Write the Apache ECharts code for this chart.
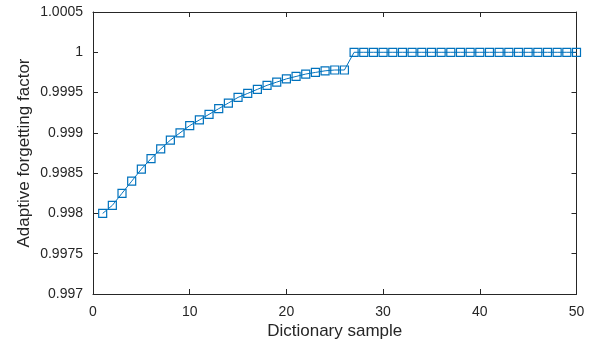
<!DOCTYPE html>
<html><head><meta charset="utf-8">
<script src="https://cdn.jsdelivr.net/npm/echarts@6/dist/echarts.min.js"></script>
<style>html,body{margin:0;padding:0;background:#fff}#c{width:595px;height:345px}</style>
</head><body><div id="c"></div>
<script>
const samples = [1,2,3,4,5,6,7,8,9,10,11,12,13,14,15,16,17,18,19,20,21,22,23,24,25,26,27,28,29,30,31,32,33,34,35,36,37,38,39,40,41,42,43,44,45,46,47,48,49,50];
const forgetting = [0.99800,0.99810,0.99825,0.99840,0.99855,0.99868,0.99880,0.99891,0.99900,0.99909,0.99916,0.99923,0.99930,0.99937,0.99944,0.99949,0.99954,0.99959,0.99963,0.99967,0.99970,0.99973,0.99975,0.99977,0.99978,0.99978,
1,1,1,1,1,1,1,1,1,1,1,1,1,1,1,1,1,1,1,1,1,1,1,1];
const xTicks = [0,10,20,30,40,50];
const yTicks = [0.997,0.9975,0.998,0.9985,0.999,0.9995,1,1.0005];

const txt = '#262626';
const font = 'Liberation Sans, Arial, sans-serif';
const chart = echarts.init(document.getElementById('c'), null, {renderer:'canvas'});
const axisLine = {show:true, onZero:false, lineStyle:{color:txt, width:1}};
const tick = {show:true, inside:true, length:5, lineStyle:{color:txt, width:1}};
chart.setOption({
  animation:false,
  grid:{left:93, right:18.5, top:12, bottom:50, containLabel:false},
  xAxis:[{
    type:'value', min:xTicks[0], max:xTicks[xTicks.length-1], interval:10,
    name:'Dictionary sample', nameLocation:'middle', nameGap:29, nameMoveOverlap:false,
    nameTextStyle:{color:txt, fontSize:17, fontFamily:font},
    axisLine:axisLine, axisTick:tick,
    axisLabel:{color:txt, fontSize:14, fontFamily:font, margin:11},
    splitLine:{show:false}
  },{
    type:'value', position:'top', min:xTicks[0], max:xTicks[xTicks.length-1], interval:10,
    axisLine:axisLine, axisTick:tick,
    axisLabel:{show:false}, splitLine:{show:false}
  }],
  yAxis:[{
    type:'value', min:yTicks[0], max:yTicks[yTicks.length-1], interval:0.0005,
    name:'Adaptive forgetting factor', nameLocation:'middle', nameGap:60, nameMoveOverlap:false,
    nameTextStyle:{color:txt, fontSize:17, fontFamily:font},
    axisLine:axisLine, axisTick:tick,
    axisLabel:{color:txt, fontSize:14, fontFamily:font, margin:10,
      formatter:v=>String(Number(v.toFixed(4)))},
    splitLine:{show:false}
  },{
    type:'value', position:'right', min:yTicks[0], max:yTicks[yTicks.length-1], interval:0.0005,
    axisLine:axisLine, axisTick:tick,
    axisLabel:{show:false}, splitLine:{show:false}
  }],
  series:[{
    type:'line', xAxisIndex:0, yAxisIndex:0,
    data:samples.map((s,i)=>[s, forgetting[i]]),
    symbol:'rect', symbolSize:8,
    lineStyle:{color:'#0072BD', width:1},
    itemStyle:{color:'rgba(0,0,0,0)', borderColor:'#0072BD', borderWidth:1.2},
    showAllSymbol:true
  }]
});
</script></body></html>
